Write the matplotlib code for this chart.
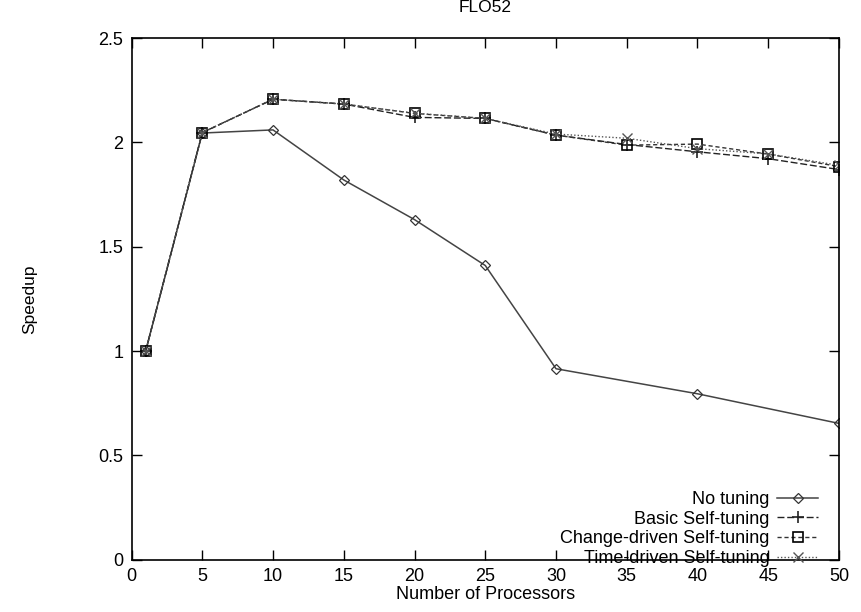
import matplotlib.pyplot as plt

plt.rcParams['font.family'] = ['Liberation Sans', 'DejaVu Sans']

# Datos
procs = [1, 5, 10, 15, 20, 25, 30, 35, 40, 45, 50]
procs_none = [1, 5, 10, 15, 20, 25, 30, 40, 50]
no_tuning = [1.0, 2.045, 2.06, 1.82, 1.63, 1.41, 0.915, 0.795, 0.653]
basic = [1.0, 2.047, 2.207, 2.184, 2.12, 2.115, 2.035, 1.99, 1.955, 1.922, 1.87]
change_driven = [1.0, 2.047, 2.207, 2.184, 2.139, 2.115, 2.035, 1.987, 1.992, 1.944, 1.884]
time_driven = [1.0, 2.047, 2.207, 2.184, 2.14, 2.115, 2.04, 2.02, 1.97, 1.945, 1.89]

fig = plt.figure(figsize=(8.62, 6.12), dpi=100)
ax = fig.add_axes([0.1526, 0.0856, 0.8207, 0.8521])

ax.plot(procs_none, no_tuning, '-', color='#444444', lw=1.1, marker='D', ms=5,
        mfc='none', mec='#333333', mew=0.9, label='No tuning')
ax.plot(procs, basic, color='#222222', lw=1.0, ls=(0, (5, 2)), marker='+', ms=9,
        mew=1.2, label='Basic Self-tuning')
ax.plot(procs, change_driven, color='#333333', lw=1.0, ls=(0, (3, 2)), marker='s', ms=7,
        mfc='none', mec='black', mew=1.2, label='Change-driven Self-tuning')
ax.plot(procs, time_driven, color='#555555', lw=1.0, ls=(0, (1, 1.5)), marker='x', ms=7,
        mew=1.0, label='Time-driven Self-tuning')

ax.set_xlim(0, 50)
ax.set_ylim(0, 2.5)
ax.set_xticks(range(0, 51, 5))
ax.set_yticks([0, 0.5, 1, 1.5, 2, 2.5])
ax.set_yticklabels(['0', '0.5', '1', '1.5', '2', '2.5'])
ax.tick_params(direction='in', length=7, width=1, top=True, right=True,
               labelsize=13, pad=6)
for s in ax.spines.values():
    s.set_linewidth(1.2)

ax.set_title('FLO52', fontsize=12.5, pad=19)
ax.set_xlabel('Number of Processors', fontsize=13, labelpad=1)
ax.set_ylabel('Speedup', fontsize=12.5, labelpad=44)

ax.legend(loc='lower right', frameon=False, markerfirst=False, fontsize=13,
          handlelength=2.3, handletextpad=0.4, labelspacing=0.15,
          borderaxespad=0.0, bbox_to_anchor=(0.981, -0.028))

fig.savefig('out.png', dpi=100)
